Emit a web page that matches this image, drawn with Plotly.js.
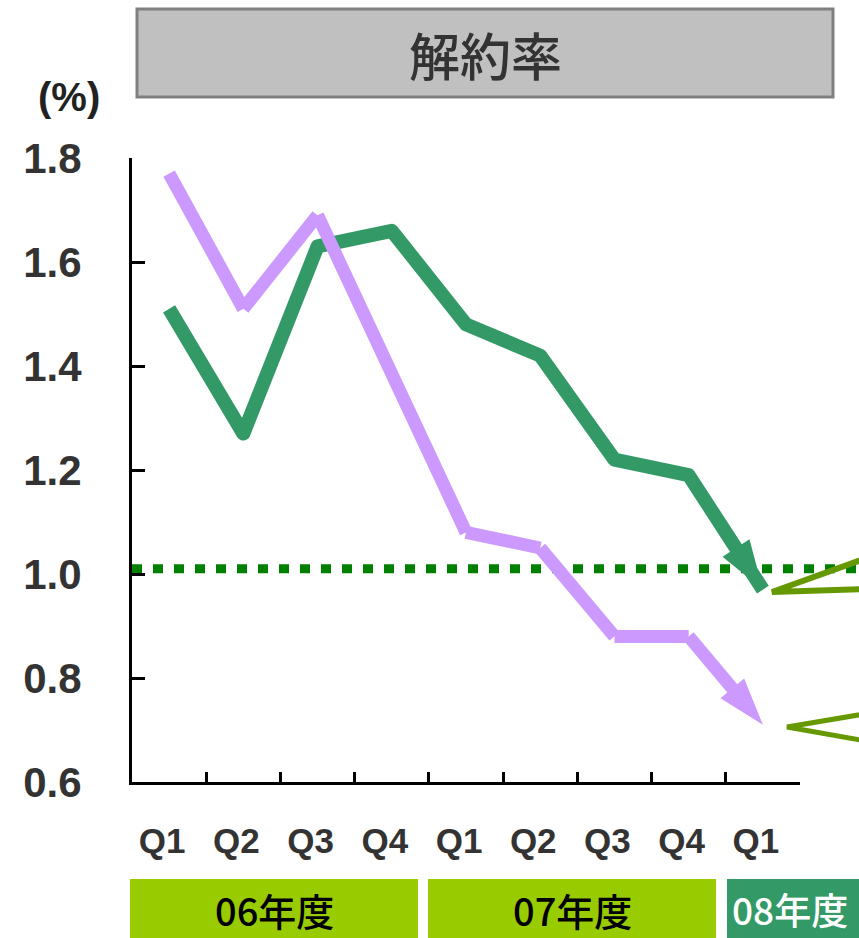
<!DOCTYPE html>
<html>
<head>
<meta charset="utf-8">
<script src="https://cdn.plot.ly/plotly-3.0.1.min.js"></script>
<style>
  html, body { margin: 0; padding: 0; background: #fff; }
  #chart { width: 859px; height: 938px; }
  .scatterlayer .js-line { stroke-linejoin: round !important; }
</style>
</head>
<body>
<div id="chart"></div>
<script>
// ---- data ----
const quarterLabels = ["Q1", "Q2", "Q3", "Q4", "Q1", "Q2", "Q3", "Q4", "Q1"];
const quarterIndex = [0, 1, 2, 3, 4, 5, 6, 7, 8];
const fiscalYears = ["06年度", "07年度", "08年度"];
const seriesGreen = [1.51, 1.27, 1.63, 1.66, 1.48, 1.42, 1.22, 1.19, 0.97];
const seriesPurple = [1.77, 1.51, 1.69, 1.38, 1.08, 1.05, 0.88, 0.88, 0.71];
const referenceLevel = 1.01;
const yTicks = [0.6, 0.8, 1.0, 1.2, 1.4, 1.6, 1.8];
const boundaryTicks = [0.5, 1.5, 2.5, 3.5, 4.5, 5.5, 6.5, 7.5, 8.5];

// ---- layout helpers (pixel -> paper) ----
const L = 132, R = 800, T = 158, B = 782;
const px = x => (x - L) / (R - L);
const py = y => (B - y) / (B - T);

function arrowSizes(n, s) { return Array.from({length: n}, (_, i) => i === n - 1 ? s : 0); }

const traces = [
  {
    x: quarterIndex, y: seriesGreen, type: 'scatter', mode: 'lines+markers',
    line: {color: '#339966', width: 14},
    marker: {symbol: 'arrow', angleref: 'previous', size: arrowSizes(9, 52), opacity: 1, color: '#339966', line: {width: 0}},
    hoverinfo: 'skip', showlegend: false
  },
  {
    x: quarterIndex, y: seriesPurple, type: 'scatter', mode: 'lines+markers',
    line: {color: '#cc99ff', width: 13},
    marker: {symbol: 'arrow', angleref: 'previous', size: arrowSizes(9, 50), opacity: 1, color: '#cc99ff', line: {width: 0}},
    hoverinfo: 'skip', showlegend: false
  },
  { x: [null], y: [null], xaxis: 'x2', type: 'scatter', mode: 'lines', hoverinfo: 'skip', showlegend: false }
];

const latin = '"Liberation Sans", Arial, sans-serif';
const cjk = '"Noto Sans CJK JP", sans-serif';

const shapes = [
  // title box
  {type: 'rect', xref: 'paper', yref: 'paper', x0: px(137), x1: px(833), y0: py(97), y1: py(9),
   fillcolor: '#c0c0c0', line: {color: '#808080', width: 3}, layer: 'above'},
  // reference dotted line
  {type: 'line', xref: 'paper', yref: 'y', x0: 0, x1: px(870), y0: referenceLevel, y1: referenceLevel,
   line: {color: '#008000', width: 9, dash: '10px,11px'}, layer: 'below'},
  // callout chevrons
  {type: 'path', xref: 'paper', yref: 'paper',
   path: `M${px(900)},${py(546)} L${px(772)},${py(592)} L${px(900)},${py(588)}`,
   line: {color: '#669900', width: 6}, layer: 'above'},
  {type: 'path', xref: 'paper', yref: 'paper',
   path: `M${px(900)},${py(708)} L${px(787)},${py(727)} L${px(900)},${py(747)}`,
   line: {color: '#669900', width: 5}, layer: 'above'},
  // fiscal-year boxes
  {type: 'rect', xref: 'paper', yref: 'paper', x0: px(130), x1: px(418), y0: py(938), y1: py(879),
   fillcolor: '#99cc00', line: {width: 0}},
  {type: 'rect', xref: 'paper', yref: 'paper', x0: px(428), x1: px(716), y0: py(938), y1: py(879),
   fillcolor: '#99cc00', line: {width: 0}},
  {type: 'rect', xref: 'paper', yref: 'paper', x0: px(727), x1: px(900), y0: py(938), y1: py(879),
   fillcolor: '#339966', line: {width: 0}}
];

const annotations = [
  {text: '解約率', xref: 'paper', yref: 'paper', x: px(485), y: py(54), showarrow: false,
   xanchor: 'center', yanchor: 'middle', font: {family: cjk, size: 51, color: '#333333', weight: 500}},
  {text: '(%)', xref: 'paper', yref: 'paper', x: px(69), y: py(97), showarrow: false,
   xanchor: 'center', yanchor: 'middle', font: {family: latin, size: 40, color: '#222222', weight: 'bold'}},
  {text: fiscalYears[0], xref: 'paper', yref: 'paper', x: px(274), y: py(909), showarrow: false,
   xanchor: 'center', yanchor: 'middle', borderpad: 0, font: {family: cjk, size: 38, color: '#000000', weight: 500}},
  {text: fiscalYears[1], xref: 'paper', yref: 'paper', x: px(572), y: py(909), showarrow: false,
   xanchor: 'center', yanchor: 'middle', borderpad: 0, font: {family: cjk, size: 38, color: '#000000', weight: 500}},
  {text: fiscalYears[2], xref: 'paper', yref: 'paper', x: px(731), y: py(909), showarrow: false,
   xanchor: 'left', yanchor: 'middle', borderpad: 0, font: {family: cjk, size: 37, color: '#ffffff', weight: 500}}
];

const layout = {
  width: 859, height: 938,
  margin: {l: L, r: 859 - R, t: T, b: 938 - B, pad: 0},
  paper_bgcolor: '#ffffff', plot_bgcolor: '#ffffff',
  showlegend: false,
  xaxis: {
    range: [-0.5, 8.5], tickmode: 'array', tickvals: quarterIndex, ticktext: quarterLabels,
    ticks: '', showline: true, linecolor: '#000000', linewidth: 3, showgrid: false, zeroline: false,
    tickfont: {family: latin, size: 35, color: '#333333', weight: 'bold'},
    ticklabelstandoff: 26, ticklabelshift: -7, fixedrange: true
  },
  xaxis2: {
    overlaying: 'x', anchor: 'y', side: 'bottom', range: [-0.5, 8.5],
    tickmode: 'array', tickvals: boundaryTicks, ticks: 'inside', ticklen: 10, tickwidth: 3, tickcolor: '#000000',
    showticklabels: false, showline: false, showgrid: false, zeroline: false, fixedrange: true
  },
  yaxis: {
    range: [0.6, 1.8], tickmode: 'array', tickvals: yTicks, tickformat: '.1f',
    ticks: 'inside', ticklen: 13, tickwidth: 3, tickcolor: '#000000',
    showline: true, linecolor: '#000000', linewidth: 3, showgrid: false, zeroline: false,
    tickfont: {family: latin, size: 42, color: '#333333', weight: 'bold'}, ticklabelstandoff: 39, fixedrange: true
  },
  shapes: shapes,
  annotations: annotations
};

Plotly.newPlot('chart', traces, layout, {displayModeBar: false, staticPlot: true});
</script>
</body>
</html>
